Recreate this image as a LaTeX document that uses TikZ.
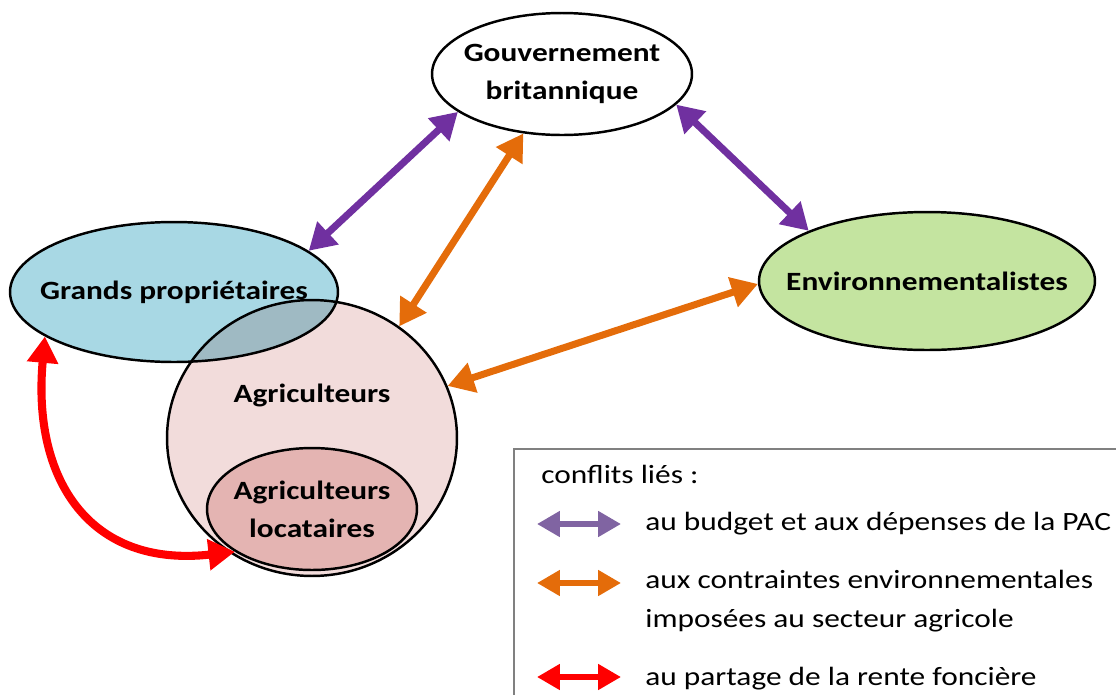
\documentclass[tikz,border=0pt]{standalone}
\usepackage{fontspec}
\setmainfont{Carlito}[FakeStretch=1.19]
\usetikzlibrary{arrows.meta,shapes.geometric}
\definecolor{agrifill}{RGB}{242,220,219}
\definecolor{locfill}{RGB}{228,180,178}
\definecolor{grandfill}{RGB}{168,216,228}
\definecolor{envfill}{RGB}{196,228,160}
\definecolor{budgetcol}{RGB}{112,48,160}
\definecolor{envcol}{RGB}{228,108,10}
\definecolor{rentecol}{RGB}{255,0,0}
\definecolor{legbudget}{RGB}{128,100,162}
\definecolor{legframe}{RGB}{128,128,128}
\tikzset{
  actor/.style={draw,ellipse,line width=1.4pt,inner ysep=0pt,inner xsep=-2cm,align=center,
    font=\bfseries\fontsize{15}{21.5}\selectfont},
  actorlabel/.style={inner sep=0pt,font=\bfseries\fontsize{15}{21.5}\selectfont},
  conflict/.style={line width=4pt,{Triangle[length=15pt,width=17pt]}-{Triangle[length=15pt,width=17pt]}},
  legarrow/.style={line width=3.2pt,{Triangle[length=13pt,width=14pt]}-{Triangle[length=13pt,width=14pt]}},
  legtext/.style={anchor=west,inner sep=0pt,align=left,font=\fontsize{15}{22}\selectfont}
}
\begin{document}
\begin{tikzpicture}[x=0.02cm,y=-0.02cm]
  \useasboundingbox (0,0) rectangle (1116,694);

  % actors
  \node[actor,fill=agrifill,minimum width=5.8cm,minimum height=5.52cm] (agri) at (312,438) {};
  \node[actorlabel] (agrilabel) at ([yshift=0.86cm]agri.center) {Agriculteurs};
  \node[actor,fill=locfill,minimum width=4.2cm,minimum height=2.44cm] (loc) at (312,509) {Agriculteurs\\locataires};
  \node[actor,fill=grandfill,blend mode=multiply,minimum width=6.56cm,minimum height=2.8cm] (grands) at (174,292) {Grands propriétaires};
  \node[actor,fill=white,minimum width=5.2cm,minimum height=2.44cm] (gouv) at (562,74) {Gouvernement\\britannique};
  \node[actor,fill=envfill,minimum width=6.72cm,minimum height=2.76cm] (env) at (927,281) {Environnementalistes};

  % conflits
  \draw[conflict,budgetcol] (gouv.200) -- (grands.17);
  \draw[conflict,budgetcol] (gouv.345) -- (env.157);
  \draw[conflict,envcol] (gouv.237) -- (agri.52);
  \draw[conflict,envcol] (env.181) -- (agri.21);
  \draw[conflict,rentecol,line width=4.6pt] (grands.199) .. controls (32,480) and (90,568) .. (loc.209);

  % legende
  \draw[legframe,line width=1.2pt] (514,449) rectangle (1140,720);
  \node[legtext] (legtitle) at (541,474) {conflits liés :};
  \foreach \row/\ypos/\col/\txt in {budget/524/legbudget/{au budget et aux dépenses de la PAC},
      contraintes/601/envcol/{aux contraintes environnementales\\imposées au secteur agricole},
      rente/679/rentecol/{au partage de la rente foncière}} {
    \node[legtext] (leg\row) at (645,\ypos) {\txt};
  }
  \coordinate (budgetA) at (537,524);
  \coordinate (budgetB) at (621,524);
  \coordinate (contrA) at (537,583);
  \coordinate (contrB) at (621,583);
  \coordinate (renteA) at (537,677);
  \coordinate (renteB) at (621,677);
  \draw[legarrow,legbudget] (budgetA) -- (budgetB);
  \draw[legarrow,envcol] (contrA) -- (contrB);
  \draw[legarrow,rentecol] (renteA) -- (renteB);
\end{tikzpicture}
\end{document}
